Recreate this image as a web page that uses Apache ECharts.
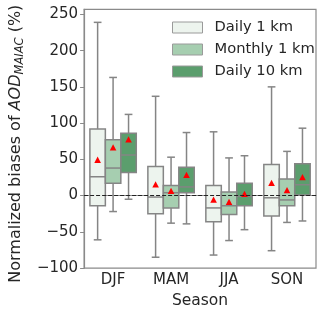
<!DOCTYPE html>
<html>
<head>
<meta charset="utf-8">
<script src="https://cdn.jsdelivr.net/npm/echarts@6/dist/echarts.min.js"></script>
<style>html,body{margin:0;padding:0;background:#fff;}#c{width:320px;height:314px;}</style>
</head>
<body>
<div id="c"></div>
<script>
var seasons = ['DJF', 'MAM', 'JJA', 'SON'];
var groupNames = ['Daily 1 km', 'Monthly 1 km', 'Daily 10 km'];
var groupColors = ['#edf4ee', '#a6ceb0', '#5b9e6d'];
var yTicks = [-100, -50, 0, 50, 100, 150, 200, 250];

// Daily 1 km
var d1Low    = [-61, -85, -82, -76];
var d1Q1     = [-14, -25, -36, -28];
var d1Median = [26, -2, -17, -3];
var d1Q3     = [92, 40, 14, 43];
var d1High   = [239, 137, 88, 150];
var d1Mean   = [49, 15, -6, 17];
// Monthly 1 km
var m1Low    = [-22, -38, -62, -37];
var m1Q1     = [17, -17, -26, -14];
var m1Median = [38, 4, -14, -6];
var m1Q3     = [77, 14, 5, 23];
var m1High   = [163, 53, 52, 61];
var m1Mean   = [66, 6, -9, 7];
// Daily 10 km
var d10Low    = [-5, -39, -47, -35];
var d10Q1     = [32, 4, -14, 1];
var d10Median = [56, 12, -1, 15];
var d10Q3     = [86, 39, 17, 44];
var d10High   = [112, 87, 55, 93];
var d10Mean   = [77, 28, 2, 25];

var groups = [
  [d1Low, d1Q1, d1Median, d1Q3, d1High, d1Mean],
  [m1Low, m1Q1, m1Median, m1Q3, m1High, m1Mean],
  [d10Low, d10Q1, d10Median, d10Q3, d10High, d10Mean]
];

var lineColor = '#858585';
var font = 'DejaVu Sans';
var textColor = '#262626';

function makeRender(gi) {
  return function (params, api) {
    var cat = api.value(0);
    var band = api.size([1, 0])[0];
    var bw = band * 0.8 / 3;
    var cx = api.coord([cat, 0])[0] + (gi - 1) * bw;
    function y(v) { return api.coord([cat, v])[1]; }
    var lo = y(api.value(1)), q1 = y(api.value(2)), md = y(api.value(3)),
        q3 = y(api.value(4)), hi = y(api.value(5)), mn = y(api.value(6));
    var ls = { stroke: lineColor, lineWidth: 1.5 };
    var cap = bw / 4;
    return {
      type: 'group',
      children: [
        { type: 'line', shape: { x1: cx, y1: q3, x2: cx, y2: hi }, style: ls },
        { type: 'line', shape: { x1: cx, y1: q1, x2: cx, y2: lo }, style: ls },
        { type: 'line', shape: { x1: cx - cap, y1: hi, x2: cx + cap, y2: hi }, style: ls },
        { type: 'line', shape: { x1: cx - cap, y1: lo, x2: cx + cap, y2: lo }, style: ls },
        { type: 'rect', shape: { x: cx - bw / 2, y: q3, width: bw, height: q1 - q3 },
          style: { fill: groupColors[gi], stroke: lineColor, lineWidth: 1.5 } },
        { type: 'line', shape: { x1: cx - bw / 2, y1: md, x2: cx + bw / 2, y2: md }, style: ls },
        { type: 'polygon', shape: { points: [[cx, mn - 3.5], [cx - 3.3, mn + 2.8], [cx + 3.3, mn + 2.8]] },
          style: { fill: '#ff0000', stroke: null } }
      ]
    };
  };
}

var series = groups.map(function (g, gi) {
  var data = seasons.map(function (s, i) {
    return [i, g[0][i], g[1][i], g[2][i], g[3][i], g[4][i], g[5][i]];
  });
  var s = {
    name: groupNames[gi],
    type: 'custom',
    renderItem: makeRender(gi),
    encode: { x: 0, y: [1, 2, 3, 4, 5] },
    itemStyle: { color: groupColors[gi] },
    data: data,
    z: 2
  };
  if (gi === 2) {
    s.markLine = {
      silent: true,
      symbol: ['none', 'none'],
      label: { show: false },
      lineStyle: { color: '#222', type: [4, 2], width: 1 },
      data: [{ yAxis: 0 }],
      z: 10
    };
  }
  return s;
});

var chart = echarts.init(document.getElementById('c'), null, { renderer: 'canvas' });
chart.setOption({
  animation: false,
  backgroundColor: '#fff',
  textStyle: { fontFamily: font },
  grid: { left: 67, right: 4, top: 9.3, bottom: 37, show: true, borderColor: '#8a8a8a', borderWidth: 1.2, containLabel: false },
  legend: {
    orient: 'vertical',
    left: 172,
    top: 19,
    padding: 0,
    itemWidth: 30,
    itemHeight: 11,
    itemGap: 5,
    icon: 'rect',
    itemStyle: { borderColor: '#9a9a9a', borderWidth: 1 },
    textStyle: { fontFamily: font, fontSize: 14.7, color: textColor, lineHeight: 17, padding: [0, 0, 0, 7] },
    data: groupNames
  },
  xAxis: {
    type: 'category',
    data: seasons,
    boundaryGap: true,
    name: 'Season',
    nameLocation: 'middle',
    nameGap: 19,
    nameTextStyle: { fontFamily: font, fontSize: 15.5, color: textColor },
    axisLine: { lineStyle: { color: '#8a8a8a', width: 1.2 } },
    axisTick: { alignWithLabel: true, length: 4, lineStyle: { color: '#8a8a8a' } },
    axisLabel: { fontFamily: font, fontSize: 15, color: textColor, margin: 5 },
    splitLine: { show: false }
  },
  yAxis: {
    type: 'value',
    min: -100,
    max: 257,
    interval: 50,
    name: '{n|Normalized biases of }{i|AOD}{s|MAIAC}{n| (%)}',
    nameLocation: 'middle',
    nameGap: 46,
    nameRotate: 90,
    nameTextStyle: {
      padding: [0, 10, 0, 0],
      rich: {
        n: { fontFamily: font, fontSize: 16, color: textColor, lineHeight: 20 },
        i: { fontFamily: font, fontSize: 16, fontStyle: 'italic', color: textColor, lineHeight: 20 },
        s: { fontFamily: font, fontSize: 11.5, fontStyle: 'italic', color: textColor, lineHeight: 12, verticalAlign: 'bottom' }
      }
    },
    axisLine: { show: true, lineStyle: { color: '#8a8a8a', width: 1.2 } },
    axisTick: { show: true, length: 4, lineStyle: { color: '#8a8a8a' } },
    axisLabel: {
      fontFamily: font, fontSize: 15, color: textColor, margin: 6,
      showMaxLabel: false,
      formatter: function (v) {
        if (yTicks.indexOf(v) < 0) return '';
        return String(v).replace('-', '\u2212');
      }
    },
    splitLine: { show: false }
  },
  series: series
});
</script>
</body>
</html>
